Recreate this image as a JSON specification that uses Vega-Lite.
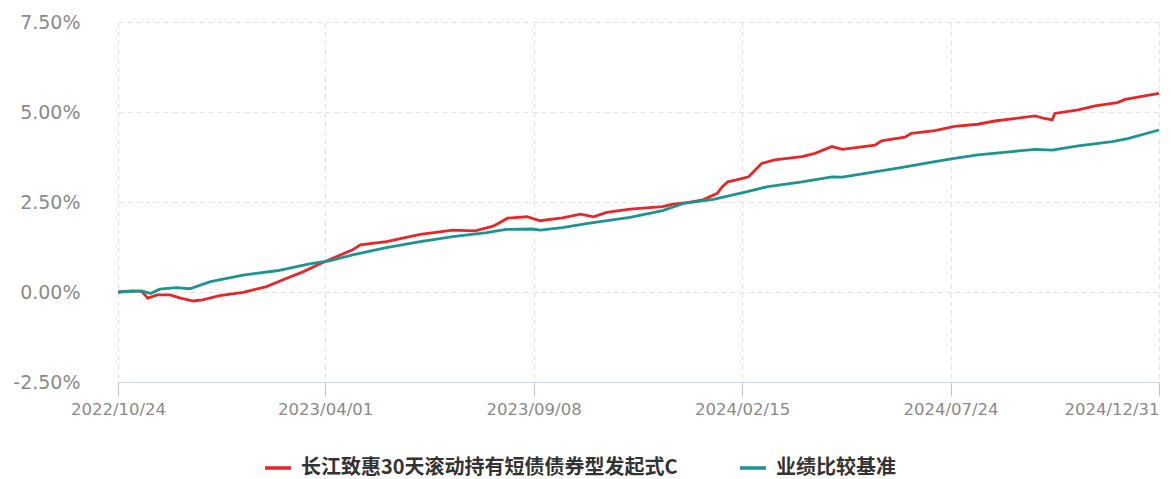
{
  "$schema": "https://vega.github.io/schema/vega-lite/v6.json",
  "width": 1041,
  "height": 360,
  "autosize": {"type": "none"},
  "padding": {"left": 118, "top": 22, "right": 12, "bottom": 97},
  "background": "white",
  "config": {
    "view": {"stroke": null},
    "font": "DejaVu Sans"
  },
  "datasets": {
    "fund": [
      {"date": "2022-10-24", "v": 0.00},
      {"date": "2022-11-04", "v": 0.03},
      {"date": "2022-11-11", "v": 0.02},
      {"date": "2022-11-16", "v": -0.17},
      {"date": "2022-11-23", "v": -0.08},
      {"date": "2022-12-03", "v": -0.08},
      {"date": "2022-12-11", "v": -0.17},
      {"date": "2022-12-21", "v": -0.25},
      {"date": "2022-12-28", "v": -0.22},
      {"date": "2023-01-10", "v": -0.10},
      {"date": "2023-01-28", "v": -0.01},
      {"date": "2023-02-15", "v": 0.15},
      {"date": "2023-03-03", "v": 0.39},
      {"date": "2023-03-15", "v": 0.56},
      {"date": "2023-03-26", "v": 0.75},
      {"date": "2023-04-05", "v": 0.91},
      {"date": "2023-04-22", "v": 1.17},
      {"date": "2023-04-28", "v": 1.31},
      {"date": "2023-05-18", "v": 1.40},
      {"date": "2023-06-13", "v": 1.60},
      {"date": "2023-07-08", "v": 1.72},
      {"date": "2023-07-25", "v": 1.70},
      {"date": "2023-08-08", "v": 1.83},
      {"date": "2023-08-19", "v": 2.05},
      {"date": "2023-09-03", "v": 2.09},
      {"date": "2023-09-13", "v": 1.98},
      {"date": "2023-09-30", "v": 2.06},
      {"date": "2023-10-14", "v": 2.16},
      {"date": "2023-10-24", "v": 2.09},
      {"date": "2023-11-03", "v": 2.21},
      {"date": "2023-11-21", "v": 2.30},
      {"date": "2023-12-16", "v": 2.37},
      {"date": "2023-12-24", "v": 2.44},
      {"date": "2024-01-04", "v": 2.48},
      {"date": "2024-01-16", "v": 2.56},
      {"date": "2024-01-27", "v": 2.74},
      {"date": "2024-01-31", "v": 2.93},
      {"date": "2024-02-04", "v": 3.06},
      {"date": "2024-02-10", "v": 3.11},
      {"date": "2024-02-20", "v": 3.20},
      {"date": "2024-03-01", "v": 3.57},
      {"date": "2024-03-11", "v": 3.67},
      {"date": "2024-04-01", "v": 3.76},
      {"date": "2024-04-11", "v": 3.85},
      {"date": "2024-04-24", "v": 4.04},
      {"date": "2024-05-02", "v": 3.96},
      {"date": "2024-05-27", "v": 4.08},
      {"date": "2024-06-01", "v": 4.20},
      {"date": "2024-06-19", "v": 4.30},
      {"date": "2024-06-24", "v": 4.41},
      {"date": "2024-07-12", "v": 4.48},
      {"date": "2024-07-27", "v": 4.60},
      {"date": "2024-08-14", "v": 4.66},
      {"date": "2024-08-27", "v": 4.75},
      {"date": "2024-09-27", "v": 4.89},
      {"date": "2024-10-04", "v": 4.82},
      {"date": "2024-10-10", "v": 4.78},
      {"date": "2024-10-12", "v": 4.96},
      {"date": "2024-10-30", "v": 5.06},
      {"date": "2024-11-12", "v": 5.17},
      {"date": "2024-11-29", "v": 5.26},
      {"date": "2024-12-05", "v": 5.35},
      {"date": "2024-12-31", "v": 5.52}
    ],
    "bench": [
      {"date": "2022-10-24", "v": 0.00},
      {"date": "2022-11-11", "v": 0.03},
      {"date": "2022-11-18", "v": -0.04},
      {"date": "2022-11-25", "v": 0.08},
      {"date": "2022-12-08", "v": 0.12},
      {"date": "2022-12-18", "v": 0.09},
      {"date": "2023-01-03", "v": 0.29},
      {"date": "2023-01-28", "v": 0.47},
      {"date": "2023-02-23", "v": 0.59},
      {"date": "2023-03-20", "v": 0.78},
      {"date": "2023-04-05", "v": 0.87},
      {"date": "2023-04-22", "v": 1.03},
      {"date": "2023-05-18", "v": 1.23},
      {"date": "2023-06-13", "v": 1.40},
      {"date": "2023-07-08", "v": 1.54},
      {"date": "2023-08-03", "v": 1.65},
      {"date": "2023-08-18", "v": 1.74},
      {"date": "2023-09-07", "v": 1.75},
      {"date": "2023-09-13", "v": 1.72},
      {"date": "2023-09-30", "v": 1.79},
      {"date": "2023-10-21", "v": 1.91},
      {"date": "2023-11-21", "v": 2.07},
      {"date": "2023-12-16", "v": 2.26},
      {"date": "2024-01-01", "v": 2.46},
      {"date": "2024-01-24", "v": 2.57},
      {"date": "2024-02-19", "v": 2.79},
      {"date": "2024-03-06", "v": 2.93},
      {"date": "2024-04-01", "v": 3.06},
      {"date": "2024-04-24", "v": 3.20},
      {"date": "2024-05-02", "v": 3.19},
      {"date": "2024-05-22", "v": 3.31},
      {"date": "2024-06-17", "v": 3.46},
      {"date": "2024-07-12", "v": 3.62},
      {"date": "2024-07-27", "v": 3.71},
      {"date": "2024-08-14", "v": 3.81},
      {"date": "2024-09-09", "v": 3.90},
      {"date": "2024-09-27", "v": 3.96},
      {"date": "2024-10-10", "v": 3.94},
      {"date": "2024-10-30", "v": 4.06},
      {"date": "2024-11-25", "v": 4.18},
      {"date": "2024-12-07", "v": 4.26},
      {"date": "2024-12-31", "v": 4.50}
    ]
  },
  "data": {"name": "fund"},
  "transform": [
    {"calculate": "'长江致惠30天滚动持有短债债券型发起式C'", "as": "series"}
  ],
  "layer": [
    {
      "mark": {"type": "line", "strokeWidth": 2.8, "interpolate": "linear"},
      "encoding": {
        "x": {
          "field": "date", "type": "temporal",
          "scale": {"type": "utc", "domain": [{"year": 2022, "month": 10, "date": 24, "utc": true}, {"year": 2024, "month": 12, "date": 31, "utc": true}]},
          "axis": {
            "title": null,
            "values": [
              {"year": 2022, "month": 10, "date": 24, "utc": true},
              {"year": 2023, "month": 4, "date": 1, "utc": true},
              {"year": 2023, "month": 9, "date": 8, "utc": true},
              {"year": 2024, "month": 2, "date": 15, "utc": true},
              {"year": 2024, "month": 7, "date": 24, "utc": true},
              {"year": 2024, "month": 12, "date": 31, "utc": true}
            ],
            "format": "%Y/%m/%d",
            "labelFont": "DejaVu Sans",
            "labelFontSize": 16.5,
            "labelColor": "#8a8a8a",
            "labelAlign": {"expr": "datum.value >= 1735600000000 ? 'right' : 'center'"},
            "labelOverlap": false,
            "labelFlush": false,
            "labelBound": false,
            "labelPadding": 5,
            "tickSize": 14,
            "tickColor": "#c4c4c4",
            "tickWidth": 1,
            "domainColor": "#cfd6e6",
            "domainWidth": 1.2,
            "grid": true,
            "gridColor": "#e3e3e3",
            "gridDash": [5, 4],
            "gridWidth": 1
          }
        },
        "y": {
          "field": "v", "type": "quantitative",
          "scale": {"domain": [-2.5, 7.5], "nice": false, "zero": false},
          "axis": {
            "title": null,
            "values": [-2.5, 0, 2.5, 5, 7.5],
            "labelExpr": "replace(format(datum.value, '.2f'), '−', '-') + '%'",
            "labelFont": "DejaVu Sans",
            "labelFontSize": 19,
            "labelColor": "#8a8a8a",
            "labelPadding": 38,
            "ticks": false,
            "domain": false,
            "grid": true,
            "gridColor": "#e3e3e3",
            "gridDash": [5, 4],
            "gridWidth": 1
          }
        },
        "color": {
          "field": "series", "type": "nominal",
          "scale": {
            "domain": ["长江致惠30天滚动持有短债债券型发起式C", "业绩比较基准"],
            "range": ["#e8262a", "#1c9591"]
          },
          "legend": {
            "title": null,
            "orient": "none",
            "legendX": 145,
            "legendY": 431,
            "direction": "horizontal",
            "symbolType": "stroke",
            "symbolSize": 676,
            "symbolStrokeWidth": 3.5,
            "labelFont": "Noto Sans CJK SC",
            "labelFontSize": 20,
            "labelFontWeight": "bold",
            "labelColor": "#333333",
            "labelLimit": 700,
            "columnPadding": 55,
            "labelOffset": 8
          }
        }
      }
    },
    {
      "data": {"name": "bench"},
      "transform": [
        {"calculate": "'业绩比较基准'", "as": "series"}
      ],
      "mark": {"type": "line", "strokeWidth": 2.8, "interpolate": "linear"},
      "encoding": {
        "x": {"field": "date", "type": "temporal"},
        "y": {"field": "v", "type": "quantitative"},
        "color": {"field": "series", "type": "nominal"}
      }
    }
  ]
}
